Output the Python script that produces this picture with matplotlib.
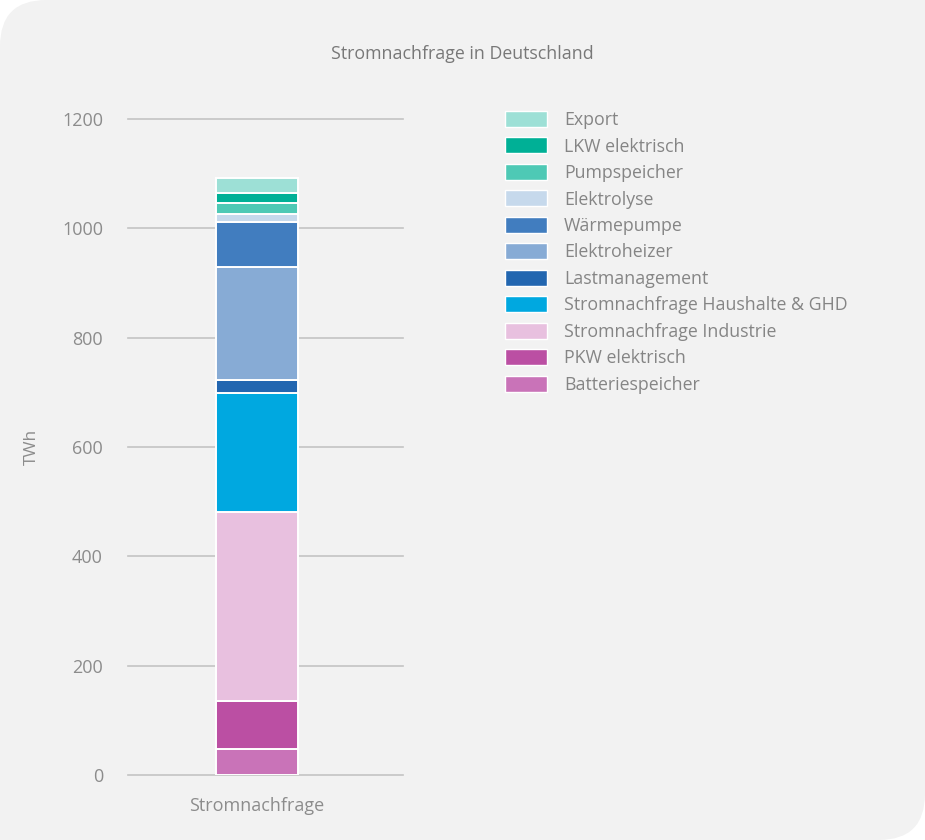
import matplotlib
matplotlib.use('Agg')
import matplotlib.pyplot as plt
from matplotlib.patches import FancyBboxPatch, Rectangle, Patch

plt.rcParams['font.family'] = ['Open Sans', 'DejaVu Sans']

# data, bottom to top of the stack
labels = ['Batteriespeicher', 'PKW elektrisch', 'Stromnachfrage Industrie',
          'Stromnachfrage Haushalte & GHD', 'Lastmanagement', 'Elektroheizer',
          'Wärmepumpe', 'Elektrolyse', 'Pumpspeicher', 'LKW elektrisch', 'Export']
values = [48, 87, 347, 216, 24, 207, 82, 15, 21, 18, 27]
colors = ['#c973b8', '#bb4fa3', '#e8c0df', '#00a8e0', '#2266b0', '#87abd5',
          '#417dbf', '#c6d9ec', '#4ec9b5', '#00b096', '#9de0d6']
category = ['Stromnachfrage']
yticks = [0, 200, 400, 600, 800, 1000, 1200]

W, H = 925, 840
fig = plt.figure(figsize=(W / 100, H / 100), dpi=100)
fig.patch.set_facecolor('white')

# background card: rounded top-left and bottom-right corners
bg = '#f2f2f2'
fig.patches.append(FancyBboxPatch((0, 0), 1, 1, boxstyle='round,pad=0,rounding_size=0.05',
                                  transform=fig.transFigure, facecolor=bg, edgecolor='none',
                                  mutation_aspect=W / H, zorder=-5))
fig.patches.append(Rectangle((0.5, 0.5), 0.5, 0.5, transform=fig.transFigure,
                             facecolor=bg, edgecolor='none', zorder=-5))
fig.patches.append(Rectangle((0, 0), 0.5, 0.5, transform=fig.transFigure,
                             facecolor=bg, edgecolor='none', zorder=-5))

ax = fig.add_axes([128 / W, 1 - 775 / H, 275 / W, 656 / H])
ax.set_facecolor('none')

bottom = 0
for lab, val, col in zip(labels, values, colors):
    ax.bar(category, [val], bottom=bottom, width=0.298, color=col,
           edgecolor='white', linewidth=1.4, label=lab, zorder=3)
    bottom += val

ax.set_xlim(-0.469, 0.531)
ax.set_ylim(0, 1200)
ax.set_yticks(yticks)
ax.grid(axis='y', color='#c4c4c4', linewidth=1.2)
for gl in ax.get_ygridlines():
    gl.set_clip_on(False)
for s in ax.spines.values():
    s.set_visible(False)
ax.tick_params(axis='both', length=0, labelsize=13, labelcolor='#8c8c8c')
ax.tick_params(axis='y', pad=18)
ax.tick_params(axis='x', pad=16)
ax.set_ylabel('TWh', fontsize=12.5, color='#8c8c8c', labelpad=16)

fig.text(0.5, 1 - 54 / H, 'Stromnachfrage in Deutschland', ha='center', va='center',
         fontsize=12.8, color='#787878')

handles = [Patch(facecolor=c, edgecolor='white', linewidth=1.0) for c in colors][::-1]
leg = fig.legend(handles, labels[::-1], loc='upper left',
                 bbox_to_anchor=(505 / W, 1 - 111 / H), frameon=False,
                 borderpad=0, borderaxespad=0,
                 fontsize=12.8, labelcolor='#858585', handlelength=2.36,
                 handleheight=1.0, labelspacing=0.475, handletextpad=0.95)

fig.savefig('out.png', dpi=100, facecolor=fig.get_facecolor())
